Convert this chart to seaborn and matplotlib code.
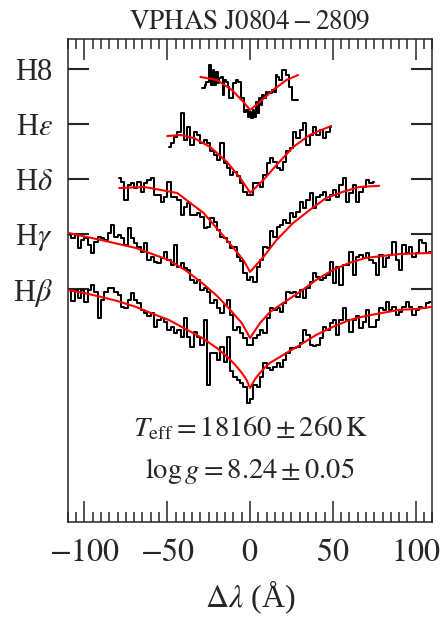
import numpy as np
import pandas as pd
import matplotlib
matplotlib.use('Agg')
import matplotlib.pyplot as plt
import seaborn as sns
from matplotlib.ticker import MultipleLocator, NullLocator

# ---------------- data ----------------
title = r'$\mathrm{VPHAS\ J0804-2809}$'
line_names = [r'H$\beta$', r'H$\gamma$', r'H$\delta$', r'H$\varepsilon$', 'H8']
offsets = [0.0, 0.2, 0.4, 0.6, 0.8]
xtick_vals = [-100, -50, 0, 50, 100]
xtick_labels = [r'$-100$', r'$-50$', r'$0$', r'$50$', r'$100$']
teff_text = r'$T_{\rm eff} = 18160 \pm 260\,{\rm K}$'
logg_text = r'$\log g = 8.24 \pm 0.05$'

# observed spectra (normalised flux), wavelength offset in Angstrom
hb_dlam = np.arange(-109, 110, 2)
hb_flux = [0.996, 0.956, 0.996, 0.966, 0.996, 0.954, 0.996, 1.015, 0.990, 0.893,
           0.960, 0.990, 1.005, 1.003, 0.990, 0.978, 0.936, 0.930, 0.960, 0.984,
           0.960, 0.948, 0.924, 0.912, 0.900, 0.912, 0.861, 0.887, 0.893, 0.881,
           0.851, 0.863, 0.839, 0.851, 0.827, 0.893, 0.827, 0.790, 0.845, 0.827,
           0.796, 0.887, 0.651, 0.766, 0.766, 0.742, 0.790, 0.736, 0.827, 0.700,
           0.681, 0.669, 0.657, 0.645, 0.584,
           0.600, 0.651, 0.645, 0.681, 0.730, 0.712, 0.706, 0.718, 0.730, 0.718,
           0.742, 0.766, 0.784, 0.784, 0.790, 0.803, 0.851, 0.833, 0.796, 0.793,
           0.796, 0.821, 0.863, 0.851, 0.875, 0.887, 0.833, 0.887, 0.930, 0.887,
           0.845, 0.887, 0.900, 0.857, 0.881, 0.924, 0.863, 0.863, 0.887, 0.930,
           0.924, 0.954, 0.924, 0.936, 0.906, 0.918, 0.936, 0.954, 0.933, 0.906,
           0.924, 0.936, 0.930, 0.948, 0.954]

hg_dlam = np.arange(-109, 110, 2)
hg_flux = [0.996, 0.984, 0.996, 0.948, 0.978, 0.984, 0.960, 0.930, 0.972, 0.990,
           0.984, 0.978, 1.003, 1.033, 0.990, 0.996, 0.984, 0.960, 1.021, 0.984,
           0.966, 0.954, 0.936, 0.966, 0.906, 0.918, 0.899, 0.893, 0.912, 0.936,
           0.906, 0.887, 0.960, 0.881, 0.893, 0.875, 0.869, 0.833, 0.821, 0.833,
           0.797, 0.803, 0.790, 0.748, 0.760, 0.730, 0.712, 0.742, 0.760, 0.706,
           0.651, 0.663, 0.639, 0.621, 0.596,
           0.596, 0.621, 0.633, 0.651, 0.639, 0.693, 0.730, 0.724, 0.730, 0.718,
           0.748, 0.790, 0.784, 0.790, 0.772, 0.797, 0.766, 0.803, 0.827, 0.857,
           0.845, 0.833, 0.839, 0.851, 0.899, 0.821, 0.881, 0.815, 0.887, 0.887,
           0.936, 0.851, 0.918, 0.924, 0.912, 0.930, 0.906, 0.893, 0.851, 0.924,
           0.881, 0.912, 0.924, 0.972, 0.906, 0.869, 0.960, 0.930, 0.954, 0.918,
           0.930, 0.978, 0.966, 0.930, 0.936]

hd_dlam = np.arange(-79, 77, 2)
hd_flux = [1.003, 0.990, 0.924, 0.978, 0.984, 0.966, 0.990, 0.954, 0.984, 0.996,
           1.003, 0.942, 0.942, 0.918, 0.936, 0.990, 0.936, 0.936, 0.924, 0.869,
           0.899, 0.912, 0.869, 0.869, 0.875, 0.863, 0.821, 0.827, 0.857, 0.845,
           0.815, 0.790, 0.784, 0.772, 0.748, 0.754, 0.718, 0.700, 0.657, 0.633,
           0.645, 0.627, 0.681, 0.706, 0.754, 0.748, 0.809, 0.790, 0.827, 0.833,
           0.851, 0.839, 0.875, 0.863, 0.881, 0.918, 0.893, 0.924, 0.948, 0.893,
           0.936, 0.942, 0.954, 0.924, 0.942, 0.960, 0.936, 0.978, 1.003, 0.918,
           0.948, 0.978, 0.918, 0.954, 0.972, 0.996, 0.984, 0.990]

he_dlam = np.arange(-49, 50, 2)
he_flux = [0.918, 0.930, 0.954, 0.972, 1.039, 0.942, 0.990, 0.924, 0.972, 0.960,
           0.930, 0.942, 0.930, 0.900, 0.887, 0.869, 0.930, 0.857, 0.839, 0.815,
           0.827, 0.809, 0.784, 0.754, 0.742, 0.742, 0.784, 0.784, 0.772, 0.815,
           0.857, 0.875, 0.863, 0.839, 0.833, 0.863, 0.900, 0.912, 0.972, 0.948,
           0.978, 1.003, 0.924, 0.960, 0.990, 0.960, 0.978, 0.948, 0.972, 0.990]

h8_dlam = np.arange(-29, 30, 1)
h8_flux = [0.930, 0.930, 0.942, 0.954, 0.954, 1.015, 0.942, 0.996, 0.942, 0.990,
           0.948, 0.966, 0.972, 0.906, 0.960, 0.954, 0.936, 0.893, 0.893, 0.948,
           0.948, 0.960, 0.954, 0.954, 0.893, 0.893, 0.845, 0.851, 0.827, 0.845,
           0.821, 0.851, 0.827, 0.881, 0.839, 0.893, 0.869, 0.906, 0.893, 0.918,
           0.912, 0.918, 0.912, 0.924, 0.918, 0.978, 0.972, 0.960, 0.960, 0.996,
           0.996, 0.978, 0.978, 0.936, 0.936, 0.887, 0.887, 0.887, 0.887]

# model fits
hb_mod_dlam = [-110, -100, -90, -80, -69, -60, -49, -40, -29, -20, -13, -9, -5, -2, 0,
               3, 6, 9, 12, 20, 30, 40, 50, 60, 70, 80, 90, 100, 110]
hb_mod_flux = [0.996, 0.985, 0.971, 0.956, 0.935, 0.913, 0.887, 0.858, 0.822, 0.785,
               0.749, 0.724, 0.695, 0.668, 0.640, 0.672, 0.695, 0.715, 0.731, 0.760,
               0.796, 0.833, 0.862, 0.887, 0.902, 0.913, 0.924, 0.927, 0.935]
hg_mod_dlam = [-110, -90, -69, -49, -39, -29, -20, -13, -5, 0, 6, 12, 20, 30, 40,
               50, 60, 70, 80, 90, 110]
hg_mod_flux = [1.004, 0.978, 0.949, 0.905, 0.868, 0.822, 0.775, 0.731, 0.676, 0.622,
               0.676, 0.716, 0.749, 0.789, 0.833, 0.869, 0.895, 0.913, 0.920, 0.927,
               0.931]
hd_mod_dlam = [-79, -64, -44, -28, -14, -4, 0, 8, 16, 26, 36, 46, 56, 66, 78]
hd_mod_flux = [0.967, 0.971, 0.949, 0.876, 0.778, 0.705, 0.662, 0.716, 0.778, 0.840,
               0.887, 0.931, 0.953, 0.971, 0.975]
he_mod_dlam = [-50, -42, -34, -24, -14, -6, -1, 0, 8, 16, 26, 36, 49]
he_mod_flux = [0.956, 0.960, 0.949, 0.916, 0.862, 0.804, 0.760, 0.749, 0.796, 0.851,
               0.916, 0.960, 0.993]
h8_mod_dlam = [-30, -20, -11, -4, 0, 6, 14, 22, 29]
h8_mod_flux = [0.971, 0.960, 0.924, 0.880, 0.851, 0.880, 0.924, 0.960, 0.978]

# ---------------- plot ----------------
sns.set_style('ticks')
plt.rcParams['font.family'] = ['Liberation Serif', 'DejaVu Serif']
plt.rcParams['mathtext.fontset'] = 'stix'
plt.rcParams['axes.linewidth'] = 1.1

fig = plt.figure(figsize=(4.41, 6.25), dpi=100)
ax = fig.add_axes([0.154, 0.165, 0.826, 0.7726])

spectra = [(hb_dlam, hb_flux, hb_mod_dlam, hb_mod_flux),
           (hg_dlam, hg_flux, hg_mod_dlam, hg_mod_flux),
           (hd_dlam, hd_flux, hd_mod_dlam, hd_mod_flux),
           (he_dlam, he_flux, he_mod_dlam, he_mod_flux),
           (h8_dlam, h8_flux, h8_mod_dlam, h8_mod_flux)]

for (xd, fd, xm, fm), off in zip(spectra, offsets):
    df = pd.DataFrame({'dlam': xd, 'flux': np.asarray(fd) + off})
    sns.lineplot(data=df, x='dlam', y='flux', ax=ax, color='black', lw=1.45,
                 drawstyle='steps-mid', estimator=None, sort=False, zorder=2)
    dm = pd.DataFrame({'dlam': xm, 'flux': np.asarray(fm) + off})
    sns.lineplot(data=dm, x='dlam', y='flux', ax=ax, color='#ff0000', lw=1.5,
                 estimator=None, sort=False, zorder=3)

ax.set_xlim(-110, 110)
ax.set_ylim(0.153, 1.909)
ax.set_xticks(xtick_vals)
ax.set_xticklabels(xtick_labels)
ax.xaxis.set_minor_locator(MultipleLocator(5))
ax.set_yticks([1.0 + o for o in offsets])
ax.set_yticklabels(line_names)
ax.yaxis.set_minor_locator(NullLocator())

ax.tick_params(axis='x', which='major', direction='in', length=15, width=1.1,
               top=True, bottom=True, labelsize=23, pad=12)
ax.tick_params(axis='x', which='minor', direction='in', length=7.5, width=1.1,
               top=True, bottom=True)
ax.tick_params(axis='y', which='major', direction='in', length=15, width=1.5,
               left=True, right=True, labelsize=22, pad=11)

ax.set_xlabel(r'$\Delta\lambda$ (Å)', fontsize=23, labelpad=8)
ax.set_ylabel('')
ax.set_title(title, fontsize=19.5, pad=7)

ax.text(0.5, 0.177, teff_text, transform=ax.transAxes, ha='center', va='baseline',
        fontsize=20.5)
ax.text(0.5, 0.0905, logg_text, transform=ax.transAxes, ha='center', va='baseline',
        fontsize=20.5)

fig.savefig('out.png', dpi=100)
